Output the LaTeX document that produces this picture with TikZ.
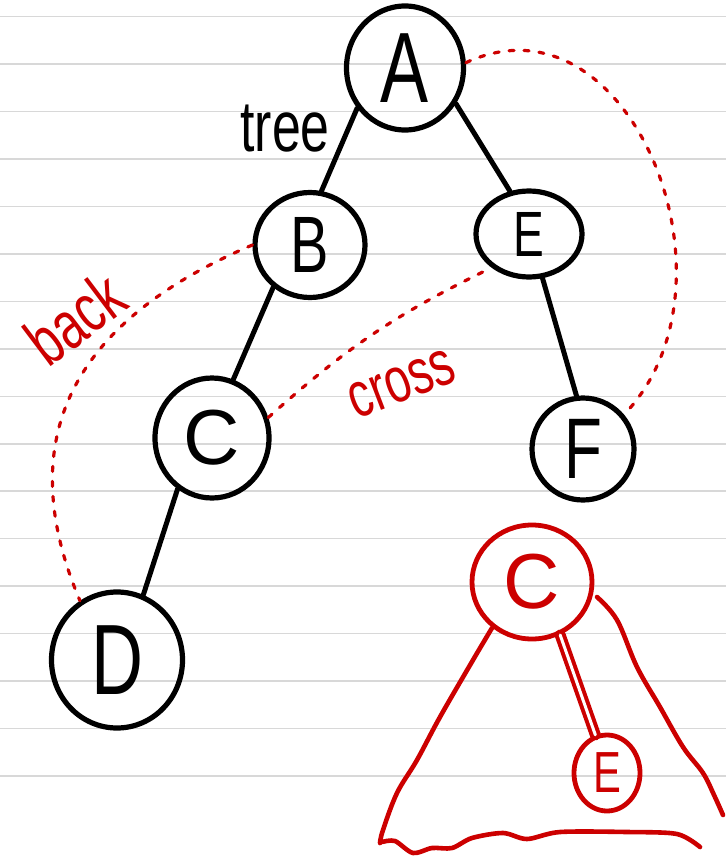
\documentclass[tikz,border=0pt]{standalone}
\usepackage{fontspec}
\setmainfont{Liberation Sans}
\newfontfamily\hand[FakeStretch=0.72]{Liberation Sans}
\usetikzlibrary{shapes.geometric}
\definecolor{pen}{RGB}{204,0,0}
\definecolor{ruling}{RGB}{216,216,216}
\begin{document}
\begin{tikzpicture}[x=1pt,y=-1pt,
  ruleline/.style={draw=ruling,line width=1.6pt},
  vtx/.style={ellipse,draw,line width=5.2pt,inner sep=0pt},
  rvtx/.style={ellipse,draw=pen,text=pen,line width=4.8pt,inner sep=0pt},
  treeedge/.style={line width=5pt,line cap=round},
  redstroke/.style={draw=pen,line width=4.6pt,line cap=round,line join=round},
  nontree/.style={draw=pen,line width=3.2pt,line cap=round,dash pattern=on 5pt off 10pt},
  lbl/.style={inner sep=0pt},
  fs/.style={font=\hand\fontsize{#1}{#1}\selectfont},
  fsw/.style={font=\fontsize{#1}{#1}\selectfont}
]
\useasboundingbox (0,0) rectangle (726,859);
\fill[white] (0,0) rectangle (726,859);
% ruled paper
\foreach \i in {0,...,16}
  \draw[ruleline] (0,{16.7+47.45*\i}) -- (726,{16.7+47.45*\i});

% black tree
\node[vtx,minimum width=117pt,minimum height=124pt,fs=100] (A) at (405,68) {A};
\node[vtx,minimum width=110pt,minimum height=105pt,fs=80] (B) at (310,245) {B};
\node[vtx,minimum width=106pt,minimum height=86pt,fs=64] (E) at (529,234) {E};
\node[vtx,minimum width=114pt,minimum height=120pt,fsw=78] (C) at (212,438) {C};
\node[vtx,minimum width=102pt,minimum height=102pt,fs=86] (F) at (583,449) {F};
\node[vtx,minimum width=131pt,minimum height=136pt,fs=100] (D) at (117,660) {D};

\draw[treeedge] (A.220) -- (B.78);
\draw[treeedge] (A.-35) -- (E.114);
\draw[treeedge] (B.229) -- (C.70);
\draw[treeedge] (C.236) -- (D.68);
\draw[treeedge] (E.-73) -- (F.97);

\node[lbl,fs=72] (tree) at (285,129) {tree};

% non-tree edges
\draw[nontree] (A.5) to[out=25,in=46,looseness=1.2] (F.40);
\draw[nontree] (B.180) to[out=203,in=113,looseness=1.2] (D.122);
\draw[nontree] (C.20) to[bend left=8] (E.222);

\node[lbl,text=pen,fs=68,rotate=37] (back) at (75,318) {back};
\node[lbl,text=pen,fs=64,rotate=21] (cross) at (402,384) {cross};

% red subtree
\node[rvtx,minimum width=120pt,minimum height=114pt,fsw=78] (RC) at (532,582) {C};
\node[rvtx,minimum width=66pt,minimum height=76pt,fs=58] (RE) at (607,773) {E};
\draw[draw=pen,line width=4pt,double=white,double distance=3pt,line cap=round] (RC.-62) -- (RE.107);

\draw[redstroke] plot[smooth,tension=0.6] coordinates {(492,628) (473,660) (440,717) (417,760) (397,793) (383,830) (380,843)};
\draw[redstroke] plot[smooth,tension=0.6] coordinates {(597,597) (617,620) (637,667) (660,707) (683,747) (703,773) (714,795) (723,815)};
\draw[redstroke] plot[smooth,tension=0.5] coordinates {(382,842) (395,841) (413,853) (432,848) (452,848) (472,838) (503,833) (527,839) (560,832) (627,832) (677,834) (700,847)};
\end{tikzpicture}
\end{document}
